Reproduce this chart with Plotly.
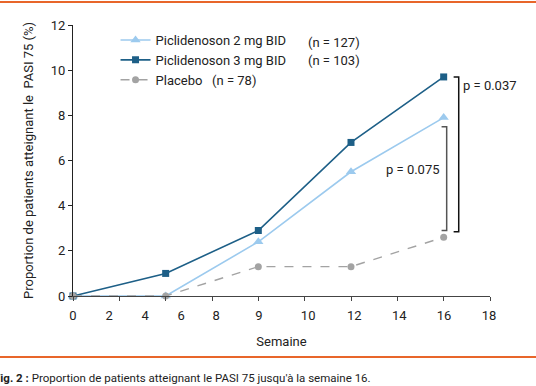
import plotly.graph_objects as go

# ---- data ----
weeks = [0, 4, 8, 12, 16]
pic3mg = [0, 1.0, 2.9, 6.8, 9.7]
pic2mg = [0, 0, 2.4, 5.5, 7.9]
placebo = [0, 0, 1.3, 1.3, 2.6]

x_tick_labels = ["0", "2", "4", "6", "8", "9", "10", "12", "14", "16", "18"]
x_label_pos = [0, 1.56, 3.11, 4.67, 6.18, 8.03, 10.15, 12.14, 14.08, 16.02, 17.96]
y_ticks = [0, 2, 4, 6, 8, 10, 12]

names = ["Piclidenoson 2 mg BID", "Piclidenoson 3 mg BID", "Placebo\u00a0\u00a0\u00a0(n = 78)"]
counts = ["(n = 127)", "(n = 103)"]
pvals = ["p = 0.037", "p = 0.075"]

C_DARK = "#1d5f87"
C_LIGHT = "#9ccaee"
C_GRAY = "#a3a3a3"
C_ORANGE = "#e8662a"
FONT = "Roboto"
FS = 13

fig = go.Figure()
fig.add_trace(go.Scatter(x=weeks, y=pic2mg, name=names[0], mode="lines+markers",
                         line=dict(color=C_LIGHT, width=1.6),
                         marker=dict(symbol="triangle-up", size=9, color=C_LIGHT),
                         cliponaxis=False))
fig.add_trace(go.Scatter(x=weeks, y=pic3mg, name=names[1], mode="lines+markers",
                         line=dict(color=C_DARK, width=1.6),
                         marker=dict(symbol="square", size=7, color=C_DARK),
                         cliponaxis=False))
fig.add_trace(go.Scatter(x=weeks, y=placebo, name=names[2], mode="lines+markers",
                         line=dict(color=C_GRAY, width=1.4, dash="dash"),
                         marker=dict(symbol="circle", size=7, color=C_GRAY),
                         cliponaxis=False))
# invisible trace to carry the x tick labels on the overlaid axis
fig.add_trace(go.Scatter(x=[0, 18], y=[0, 0], xaxis="x2", mode="markers",
                         marker=dict(opacity=0), showlegend=False, hoverinfo="skip"))

fig.update_layout(
    width=536, height=386,
    margin=dict(l=73, r=46, t=25, b=90, autoexpand=False),
    paper_bgcolor="white", plot_bgcolor="white",
    font=dict(family=FONT, size=FS, color="#222"),
    showlegend=True,
    legend=dict(x=0.102, y=1.0, xanchor="left", yanchor="top",
                bgcolor="rgba(0,0,0,0)", font=dict(size=FS, color="#222"),
                itemwidth=30, tracegroupgap=0),
    xaxis=dict(range=[0, 18], tickvals=[0, 2, 4, 6, 8, 10, 12, 14, 16, 18],
               showticklabels=False, ticks="outside", ticklen=4, tickcolor="#444",
               showline=True, linecolor="#444", linewidth=1.2, showgrid=False,
               zeroline=False, title=dict(text="Semaine", standoff=36,
                                          font=dict(size=FS))),
    xaxis2=dict(range=[0, 18], overlaying="x", side="bottom", tickvals=x_label_pos,
                ticktext=x_tick_labels, ticks="outside", ticklen=7,
                tickcolor="rgba(0,0,0,0)", showline=False, showgrid=False,
                zeroline=False, tickfont=dict(size=FS, color="#222")),
    yaxis=dict(range=[0, 12], tickvals=y_ticks, ticks="outside", ticklen=4,
               tickcolor="#222", showline=True, linecolor="#222", linewidth=1.2,
               showgrid=False, zeroline=False, tickfont=dict(size=FS),
               title=dict(text="Proportion de patients atteignant le\u00a0\u00a0PASI 75 (%)",
                          standoff=14, font=dict(size=FS))),
)

# (n = ...) annotations next to legend entries
for i, c in enumerate(counts):
    fig.add_annotation(x=(306 - 73) / 417, y=(296 - (42 + 19 * i)) / 271,
                       xref="paper", yref="paper", text=c, showarrow=False,
                       xanchor="left", yanchor="middle",
                       font=dict(size=FS, color="#222"))

# significance brackets derived from data values
x_end = weeks[-1]
b1_top, b1_bot = pic3mg[-1], placebo[-1] + 0.25
b2_top, b2_bot = pic2mg[-1] - 0.4, placebo[-1] + 0.3
bx1, bx2 = x_end + 0.65, x_end + 0.13
tick = 0.22
for (bx, top, bot, col) in [(bx1, b1_top, b1_bot, "#111"), (bx2, b2_top, b2_bot, "#555")]:
    fig.add_shape(type="path",
                  path=f"M {bx - tick} {top} L {bx} {top} L {bx} {bot} L {bx - tick} {bot}",
                  xref="x", yref="y", line=dict(color=col, width=1.5))
fig.add_annotation(x=bx1 + 0.1, y=b1_top - 0.4, xref="x", yref="y", text=pvals[0],
                   showarrow=False, xanchor="left", yanchor="middle",
                   font=dict(size=FS, color="#222"))
fig.add_annotation(x=bx2 - 0.2, y=(b2_top + b2_bot) / 2 + 0.4, xref="x", yref="y",
                   text=pvals[1], showarrow=False, xanchor="right", yanchor="middle",
                   font=dict(size=FS, color="#222"))

# orange rules and caption
fig.add_shape(type="line", xref="paper", yref="paper", x0=-0.2, x1=1.2,
              y0=(296 - 2) / 271, y1=(296 - 2) / 271, line=dict(color=C_ORANGE, width=2))
fig.add_shape(type="line", xref="paper", yref="paper", x0=-0.2, x1=1.2,
              y0=(296 - 357) / 271, y1=(296 - 357) / 271, line=dict(color=C_ORANGE, width=2))
fig.add_annotation(x=(-8 - 73) / 417, y=(296 - 378) / 271, xref="paper", yref="paper",
                   text="<b>Fig. 2 :</b> Proportion de patients atteignant le PASI 75 jusqu'à la semaine 16.",
                   showarrow=False, xanchor="left", yanchor="middle",
                   font=dict(size=11.5, color="#222"))

fig.write_html("out.html", config={"displayModeBar": False},
               post_script="document.body.style.margin='0';")
